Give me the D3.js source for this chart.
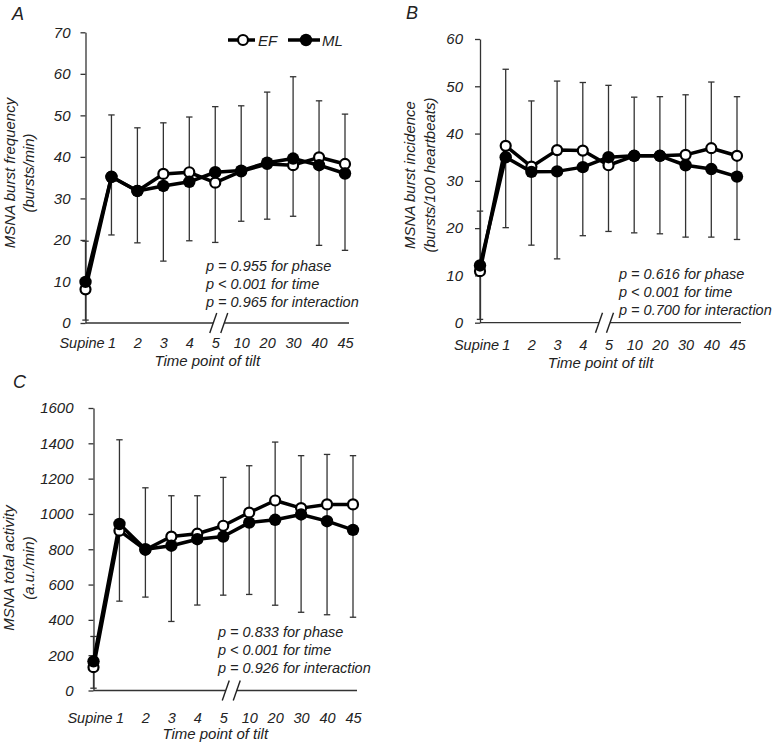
<!DOCTYPE html>
<html>
<head>
<meta charset="utf-8">
<script src="https://cdn.jsdelivr.net/npm/d3@7"></script>
<style>
  html, body { margin: 0; padding: 0; background: #fff; }
  svg { display: block; }
  text { font-family: "Liberation Sans", Arial, Helvetica, sans-serif; font-style: italic; fill: #222; }
</style>
</head>
<body>
<script>
// ---------------- DATA ----------------
const timeLabels = ["Supine", "1", "2", "3", "4", "5", "10", "20", "30", "40", "45"];
const seriesNames = ["EF", "ML"];

// Panel A: MSNA burst frequency (bursts/min)
const freqEF  = [8.1, 35.2, 31.8, 35.9, 36.3, 33.8, 36.5, 38.3, 38.0, 39.9, 38.3];
const freqML  = [9.9, 35.2, 31.8, 33.0, 34.0, 36.3, 36.7, 38.6, 39.6, 38.0, 36.0];
const freqHi  = [19.7, 50.1, 47.0, 48.2, 49.6, 52.1, 52.3, 55.6, 59.3, 53.5, 50.3];
const freqLo  = [0.7, 21.2, 19.3, 14.9, 19.8, 19.4, 24.5, 25.0, 25.7, 18.7, 17.5];
const freqTicks = [0, 10, 20, 30, 40, 50, 60, 70];
const freqStats = ["p = 0.955 for phase", "p < 0.001 for time", "p = 0.965 for interaction"];

// Panel B: MSNA burst incidence (bursts/100 heartbeats)
const incEF = [10.9, 37.4, 33.0, 36.5, 36.4, 33.3, 35.3, 35.3, 35.5, 36.9, 35.3];
const incML = [12.1, 35.0, 31.9, 32.0, 32.9, 35.0, 35.3, 35.3, 33.3, 32.5, 30.9];
const incHi = [23.6, 53.6, 46.9, 51.1, 50.8, 50.2, 47.7, 47.8, 48.2, 50.9, 47.8];
const incLo = [0.7, 20.1, 16.4, 13.5, 18.4, 19.3, 19.0, 18.8, 18.1, 18.1, 17.6];
const incTicks = [0, 10, 20, 30, 40, 50, 60];
const incStats = ["p = 0.616 for phase", "p < 0.001 for time", "p = 0.700 for interaction"];

// Panel C: MSNA total activity (a.u./min)
const taEF = [132, 905, 797, 872, 888, 933, 1008, 1076, 1033, 1054, 1054];
const taML = [165, 943, 800, 820, 857, 872, 951, 967, 997, 959, 910];
const taHi = [306, 1420, 1148, 1103, 1103, 1207, 1273, 1407, 1330, 1337, 1330];
const taLo = [13, 506, 529, 391, 484, 540, 544, 483, 443, 429, 415];
const taTicks = [0, 200, 400, 600, 800, 1000, 1200, 1400, 1600];
const taStats = ["p = 0.833 for phase", "p < 0.001 for time", "p = 0.926 for interaction"];

const xTitle = "Time point of tilt";

// ---------------- DRAW ----------------
const W = 776, H = 746;
const svg = d3.select("body").append("svg").attr("width", W).attr("height", H);
svg.append("rect").attr("width", W).attr("height", H).attr("fill", "#fff");

const axisColor = "#333";

function drawPanel(cfg) {
  const g = svg.append("g");
  const x = d3.scalePoint().domain(timeLabels).range(cfg.xRange);
  const y = d3.scaleLinear().domain([0, d3.max(cfg.ticks)]).range(cfg.yRange);
  const axisX = cfg.xRange[0];
  const y0 = y(0);

  // y axis
  const yAxis = d3.axisLeft(y).tickValues(cfg.ticks).tickSize(5).tickSizeOuter(0)
    .tickPadding(cfg.tickPad).tickFormat(d3.format("d"));
  const ya = g.append("g").attr("transform", `translate(${axisX},0)`).call(yAxis);
  ya.select(".domain").attr("stroke", axisColor).attr("stroke-width", 1.3);
  ya.selectAll(".tick line").attr("stroke", axisColor).attr("stroke-width", 1.3);
  ya.selectAll(".tick text").attr("font-size", 15).attr("fill", "#222")
    .style("font-family", '"Liberation Sans", Arial, sans-serif').style("font-style", "italic");

  // x axis line with break
  const bc = x("5") + cfg.breakOff;
  const gap = 5.5;
  const xEnd = cfg.xRange[1] + 4;
  g.append("line").attr("x1", axisX).attr("x2", bc - gap).attr("y1", y0).attr("y2", y0)
    .attr("stroke", axisColor).attr("stroke-width", 1.3);
  g.append("line").attr("x1", bc + gap).attr("x2", xEnd).attr("y1", y0).attr("y2", y0)
    .attr("stroke", axisColor).attr("stroke-width", 1.3);
  [bc - gap, bc + gap].forEach(cx => {
    g.append("line").attr("x1", cx - 3.5).attr("y1", y0 + 10).attr("x2", cx + 3.5).attr("y2", y0 - 10)
      .attr("stroke", "#222").attr("stroke-width", 1.4);
  });

  // x tick labels
  const xAxis = d3.axisBottom(x).tickSize(0).tickPadding(0);
  const xa = g.append("g").attr("transform", `translate(0,${cfg.tickLabelY})`).call(xAxis);
  xa.select(".domain").remove();
  xa.selectAll(".tick text").attr("font-size", 14.5).attr("fill", "#222").attr("dy", 0).attr("y", 0)
    .attr("dx", d => d === "Supine" ? -4 : 0)
    .style("font-family", '"Liberation Sans", Arial, sans-serif').style("font-style", "italic");

  // x title
  g.append("text").attr("x", (cfg.xRange[0] + cfg.xRange[1]) / 2 - 8).attr("y", cfg.titleY)
    .attr("text-anchor", "middle").attr("font-size", 15).text(xTitle);

  // y title (two lines, rotated)
  cfg.yLabel.forEach((t, i) => {
    g.append("text").attr("transform", `translate(${cfg.yLabelX[i]},${cfg.yLabelCY}) rotate(-90)`)
      .attr("text-anchor", "middle").attr("font-size", 15).text(t);
  });

  // panel letter
  g.append("text").attr("x", cfg.letterPos[0]).attr("y", cfg.letterPos[1])
    .attr("font-size", 18).text(cfg.letter);

  // error bars
  const capW = 3.2;
  timeLabels.forEach((lab, i) => {
    const cx = x(lab);
    g.append("line").attr("x1", cx).attr("x2", cx).attr("y1", y(cfg.hi[i])).attr("y2", y(cfg.lo[i]))
      .attr("stroke", "#333").attr("stroke-width", 1.3);
    [cfg.hi[i], cfg.lo[i]].forEach(v => {
      g.append("line").attr("x1", cx - capW).attr("x2", cx + capW).attr("y1", y(v)).attr("y2", y(v))
        .attr("stroke", "#333").attr("stroke-width", 1.3);
    });
  });

  // lines
  const line = d3.line().x((d, i) => x(timeLabels[i])).y(d => y(d));
  [cfg.ef, cfg.ml].forEach(vals => {
    g.append("path").datum(vals).attr("d", line).attr("fill", "none")
      .attr("stroke", "#000").attr("stroke-width", 3.5).attr("stroke-linejoin", "round");
  });
  // markers: EF open, ML filled (on top)
  g.append("g").selectAll("circle").data(cfg.ef).join("circle")
    .attr("cx", (d, i) => x(timeLabels[i])).attr("cy", d => y(d)).attr("r", 5)
    .attr("fill", "#fff").attr("stroke", "#000").attr("stroke-width", 2.2);
  g.append("g").selectAll("circle").data(cfg.ml).join("circle")
    .attr("cx", (d, i) => x(timeLabels[i])).attr("cy", d => y(d)).attr("r", 6.2)
    .attr("fill", "#000");

  // stats text
  cfg.stats.forEach((t, i) => {
    g.append("text").attr("x", cfg.statsPos[0]).attr("y", cfg.statsPos[1] + i * 18)
      .attr("font-size", 14.5).text(t);
  });
  return g;
}

drawPanel({
  xRange: [85.5, 345], yRange: [323, 32.3], ticks: freqTicks, tickPad: 10,
  ef: freqEF, ml: freqML, hi: freqHi, lo: freqLo, breakOff: 3.5,
  tickLabelY: 348, titleY: 366,
  yLabel: ["MSNA burst frequency", "(bursts/min)"], yLabelX: [15, 34], yLabelCY: 173,
  letter: "A", letterPos: [12, 20], stats: freqStats, statsPos: [206, 271]
});
drawPanel({
  xRange: [480, 737], yRange: [322.7, 39], ticks: incTicks, tickPad: 12,
  ef: incEF, ml: incML, hi: incHi, lo: incLo, breakOff: -4,
  tickLabelY: 350, titleY: 368,
  yLabel: ["MSNA burst incidence", "(bursts/100 heartbeats)"], yLabelX: [415, 435], yLabelCY: 175,
  letter: "B", letterPos: [406, 19], stats: incStats, statsPos: [619, 279]
});
drawPanel({
  xRange: [93.5, 353], yRange: [690.5, 408], ticks: taTicks, tickPad: 15,
  ef: taEF, ml: taML, hi: taHi, lo: taLo, breakOff: 8,
  tickLabelY: 723, titleY: 739,
  yLabel: ["MSNA total activity", "(a.u./min)"], yLabelX: [14, 34], yLabelCY: 568,
  letter: "C", letterPos: [13, 388], stats: taStats, statsPos: [218, 637]
});

// legend (panel A)
const leg = svg.append("g");
const legendItems = [
  { name: seriesNames[0], x1: 228, x2: 255, cx: 243, tx: 258, filled: false },
  { name: seriesNames[1], x1: 288, x2: 320, cx: 306, tx: 322, filled: true }
];
legendItems.forEach(it => {
  leg.append("line").attr("x1", it.x1).attr("x2", it.x2).attr("y1", 40).attr("y2", 40)
    .attr("stroke", "#000").attr("stroke-width", 3.5);
  leg.append("circle").attr("cx", it.cx).attr("cy", 40).attr("r", it.filled ? 6.2 : 5)
    .attr("fill", it.filled ? "#000" : "#fff").attr("stroke", it.filled ? "none" : "#000")
    .attr("stroke-width", 2.2);
  leg.append("text").attr("x", it.tx).attr("y", 45.5).attr("font-size", 15).text(it.name);
});
</script>
</body>
</html>
